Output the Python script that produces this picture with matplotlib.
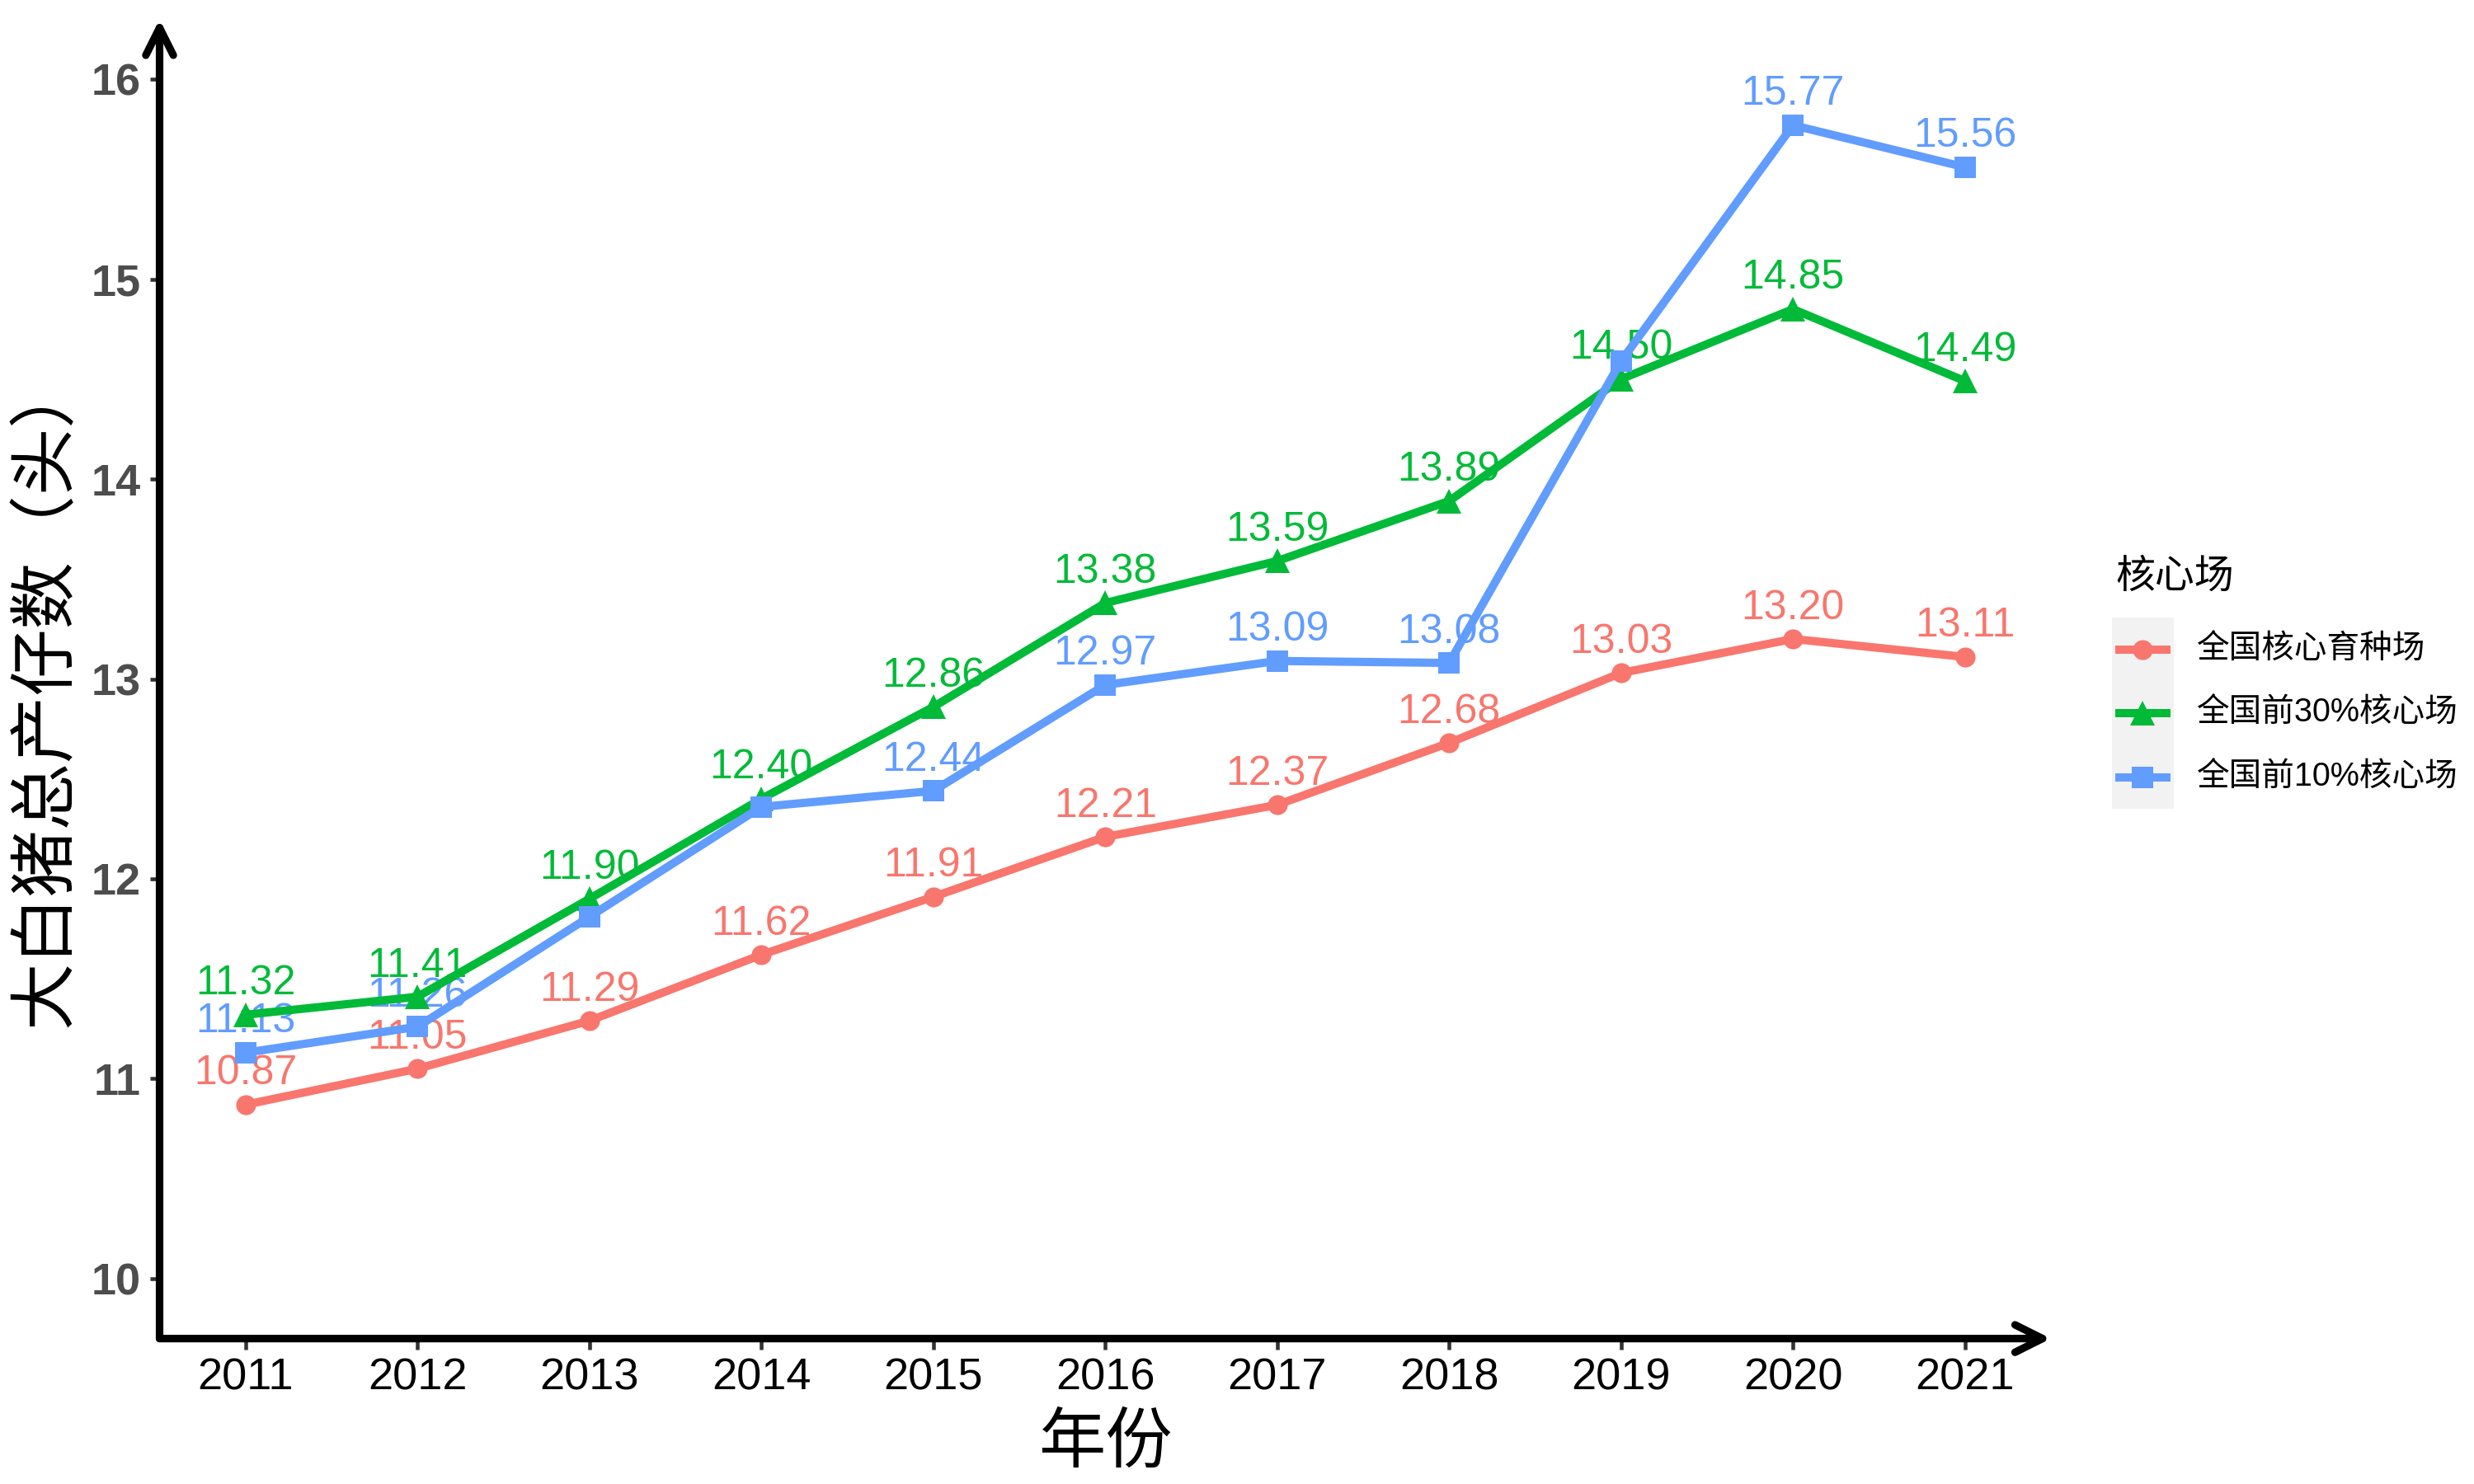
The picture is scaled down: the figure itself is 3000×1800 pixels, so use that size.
import matplotlib
matplotlib.use('Agg')
import matplotlib.pyplot as plt
from matplotlib.lines import Line2D
from matplotlib.patches import Rectangle

plt.rcParams['font.family'] = ['Liberation Sans', 'Noto Sans CJK SC', 'DejaVu Sans']

# data
years = [2011, 2012, 2013, 2014, 2015, 2016, 2017, 2018, 2019, 2020, 2021]
core_all = [10.87, 11.05, 11.29, 11.62, 11.91, 12.21, 12.37, 12.68, 13.03, 13.20, 13.11]
top30 = [11.32, 11.41, 11.90, 12.40, 12.86, 13.38, 13.59, 13.89, 14.50, 14.85, 14.49]
top10 = [11.13, 11.26, 11.81, 12.36, 12.44, 12.97, 13.09, 13.08, 14.59, 15.77, 15.56]
# labels that are shown for the 10% series (others hidden in the original)
top10_shown = [True, True, False, False, True, True, True, True, False, True, True]

series_names = ['全国核心育种场', '全国前30%核心场', '全国前10%核心场']
colors = ['#F8766D', '#00BA38', '#619CFF']
markers = ['o', '^', 's']
msizes = [5.8, 7.4, 6.2]

fig = plt.figure(figsize=(10, 6), dpi=300, facecolor='white')
ax = fig.add_axes([0.0645, 0.098, 0.829 - 0.0645, 0.987 - 0.098])

all_series = [core_all, top30, top10]
shown = [[True] * len(years), [True] * len(years), top10_shown]

for vals, c, m, ms in zip(all_series, colors, markers, msizes):
    ax.plot(years, vals, color=c, lw=2.4, marker=m, markersize=ms,
            markeredgewidth=0, zorder=3)

for vals, c, show in zip(all_series, colors, shown):
    for x, y, s in zip(years, vals, show):
        if s:
            ax.annotate('%.2f' % y, (x, y), xytext=(0, 9), textcoords='offset points',
                        ha='center', va='center', color=c, fontsize=12, zorder=2)

ax.set_xlim(2010.5, 2021.5)
ax.set_ylim(9.7, 16.3)
ax.set_xticks(years)
ax.set_xticklabels([str(y) for y in years], fontsize=13, color='black')
ax.set_yticks([10, 11, 12, 13, 14, 15, 16])
ax.set_yticklabels(['10', '11', '12', '13', '14', '15', '16'], fontsize=13,
                   fontweight='bold', color='#4D4D4D')
ax.tick_params(axis='both', length=3, width=1.1, color='#333333', pad=2.5)

for sp in ax.spines.values():
    sp.set_visible(False)

# axis lines with arrows
for end in [(1.0, 0), (0, 1.0)]:
    ax.annotate('', xy=end, xytext=(0, 0), xycoords='axes fraction',
                arrowprops=dict(arrowstyle='->,head_length=0.8,head_width=0.4', lw=2.2,
                                color='black', shrinkA=0, shrinkB=0),
                annotation_clip=False)

ax.set_xlabel('年份', fontsize=19.5)
ax.set_ylabel('大白猪总产仔数（头）', fontsize=19.5, va='center')
ax.xaxis.set_label_coords(0.5, -0.057)
ax.yaxis.set_label_coords(-0.0595, 0.49)

# legend
fig.text(0.855, 0.611, '核心场', fontsize=11.5, va='center', ha='left')
fig.add_artist(Rectangle((0.8535, 0.455), 0.0252, 0.129, transform=fig.transFigure,
                         facecolor='#F2F2F2', edgecolor='none'))
rows = [0.5624, 0.5194, 0.4763]
for yy, name, c, m, ms in zip(rows, series_names, colors, markers, msizes):
    fig.add_artist(Line2D([0.8565, 0.8757], [yy, yy], transform=fig.transFigure,
                          color=c, lw=2.4))
    fig.add_artist(Line2D([0.8661], [yy], transform=fig.transFigure, color=c,
                          marker=m, markersize=ms, markeredgewidth=0, lw=0))
    fig.text(0.888, yy, name, fontsize=9.5, va='center', ha='left')

fig.savefig('out.png', dpi=300, facecolor='white')
